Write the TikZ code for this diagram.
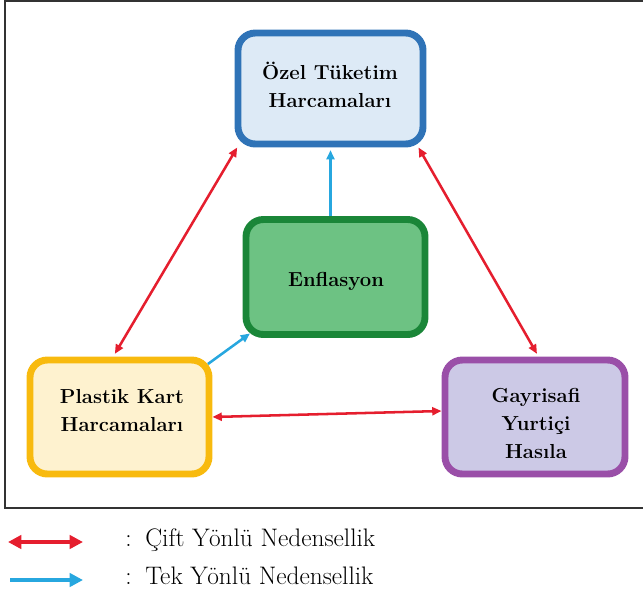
\documentclass[tikz,border=0pt]{standalone}
\usetikzlibrary{arrows.meta}
\definecolor{bluebd}{HTML}{2F73B7}
\definecolor{bluefl}{HTML}{DDEAF6}
\definecolor{greenbd}{HTML}{1A8638}
\definecolor{greenfl}{HTML}{6DC283}
\definecolor{yelbd}{HTML}{F8BA0E}
\definecolor{yelfl}{HTML}{FEF2CF}
\definecolor{purbd}{HTML}{9A4FA8}
\definecolor{purfl}{HTML}{CCC9E6}
\definecolor{redar}{HTML}{E51E2E}
\definecolor{bluear}{HTML}{27A7DF}
\tikzset{
  box/.style={draw, rounded corners=13pt, line width=5.2pt, inner sep=0pt},
  boxtext/.style={font=\bfseries\fontsize{15.2}{21}\selectfont, align=center, inner sep=0pt},
  legtext/.style={font=\fontsize{19}{22}\selectfont, anchor=base west, inner sep=0pt},
  twoway/.style={redar, line width=1.9pt, {Triangle[length=7pt,width=6pt]}-{Triangle[length=7pt,width=6pt]}},
  oneway/.style={bluear, line width=1.9pt, -{Triangle[length=7pt,width=6pt]}},
  legtwo/.style={redar, line width=3pt, {Triangle[length=10pt,width=10pt]}-{Triangle[length=10pt,width=10pt]}},
  legone/.style={bluear, line width=3pt, -{Triangle[length=10pt,width=10pt]}}
}
\begin{document}
\begin{tikzpicture}[x=0.75pt,y=-0.75pt]
\useasboundingbox (0,0) rectangle (643,601);
% frame
\draw[black!80, line width=1.5pt] (650,1) -- (5,1) -- (5,508) -- (650,508);
% boxes
\node[box, draw=bluebd, fill=bluefl, minimum width=185*0.75pt, minimum height=111*0.75pt] (oz) at (330.5,88.5) {};
\node[box, draw=greenbd, fill=greenfl, minimum width=179*0.75pt, minimum height=115*0.75pt] (en) at (335.5,277) {};
\node[box, draw=yelbd, fill=yelfl, minimum width=179*0.75pt, minimum height=114*0.75pt] (pk) at (119.5,417) {};
\node[box, draw=purbd, fill=purfl, minimum width=180*0.75pt, minimum height=114*0.75pt] (gs) at (535,417) {};
% texts
\node[boxtext] (ozt) at (330,85) {Özel Tüketim\\Harcamaları};
\node[boxtext] (ent) at (336,281) {Enflasyon};
\node[boxtext] (pkt) at (122,411) {Plastik Kart\\Harcamaları};
\node[boxtext] (gst) at (536,423) {Gayrisafi\\Yurtiçi\\Hasıla};
% connectors
\draw[twoway] ([shift={(2pt,0pt)}]oz.south west) -- ([xshift=-3.5pt,yshift=2pt]pk.north);
\draw[twoway] ([shift={(-6pt,0pt)}]oz.south east) -- ([xshift=1.5pt,yshift=2pt]gs.north);
\draw[twoway] (pk.east) -- ([yshift=4.5pt]gs.west);
\draw[oneway] (oz.south |- en.north) -- ([yshift=-2pt]oz.south);
\draw[oneway] ([shift={(-3.4pt,-5.6pt)}]pk.north east) -- ([shift={(5.6pt,3.4pt)}]en.south west);
% legend
\coordinate (l1a) at (8,542);
\coordinate (l1b) at (83,542);
\coordinate (l2a) at (10,580);
\coordinate (l2b) at (83,580);
\draw[legtwo] (l1a) -- (l1b);
\draw[legone] (l2a) -- (l2b);
\node[legtext] (c1) at (125,546) {:};
\node[legtext] (t1) at (145,546) {Çift Yönlü Nedensellik};
\node[legtext] (c2) at (125,584) {:};
\node[legtext] (t2) at (145,584) {Tek Yönlü Nedensellik};
\end{tikzpicture}
\end{document}
